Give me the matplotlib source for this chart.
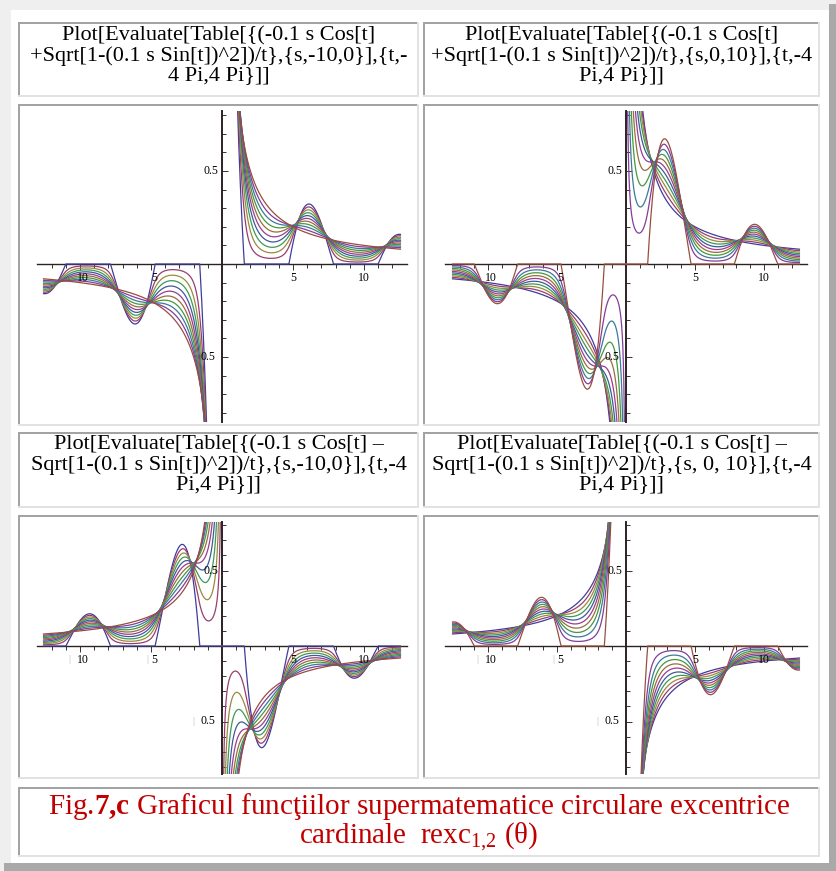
import numpy as np
import matplotlib
matplotlib.use('Agg')
import matplotlib.pyplot as plt
import colorsys
from matplotlib.patches import Rectangle

plt.rcParams['font.family'] = ['Liberation Serif', 'DejaVu Serif']
plt.rcParams['mathtext.fontset'] = 'custom'
plt.rcParams['mathtext.rm'] = 'Liberation Serif'
plt.rcParams['mathtext.it'] = 'Liberation Serif:italic'
plt.rcParams['mathtext.bf'] = 'Liberation Serif:bold'

# family parameter s (one curve per value) and the t interval, as in the Table[...] titles
s_neg = [-10, -9, -8, -7, -6, -5, -4, -3, -2, -1, 0]
s_pos = [0, 1, 2, 3, 4, 5, 6, 7, 8, 9, 10]
t_min, t_max = -4 * np.pi, 4 * np.pi
# sign in front of Sqrt[...] : top row "+", bottom row "-"
signs = [1, 1, -1, -1]

# Mathematica 6 default plot colours: Hue[h, 0.6, 0.6]
hues = [0.67, 0.906068, 0.142136, 0.378204, 0.614272, 0.850340,
        0.086408, 0.322476, 0.558544, 0.794612, 0.030680]

x_ticks = [-10, -5, 5, 10]
x_tick_labels = ['10', '5', '5', '10']
y_ticks = [-0.5, 0.5]
y_tick_labels = ['0.5', '0.5']

titles = [
    ['Plot[Evaluate[Table[{(-0.1 s Cos[t]',
     '+Sqrt[1-(0.1 s Sin[t])^2])/t},{s,-10,0}],{t,-',
     '4 Pi,4 Pi}]]'],
    ['Plot[Evaluate[Table[{(-0.1 s Cos[t]',
     '+Sqrt[1-(0.1 s Sin[t])^2])/t},{s,0,10}],{t,-4',
     'Pi,4 Pi}]]'],
    ['Plot[Evaluate[Table[{(-0.1 s Cos[t] \u2013',
     'Sqrt[1-(0.1 s Sin[t])^2])/t},{s,-10,0}],{t,-4',
     'Pi,4 Pi}]]'],
    ['Plot[Evaluate[Table[{(-0.1 s Cos[t] \u2013',
     'Sqrt[1-(0.1 s Sin[t])^2])/t},{s, 0, 10}],{t,-4',
     'Pi,4 Pi}]]'],
]
caption = [r'Fig.$\mathbf{7{,}c}$ Graficul func' + '\u0163' + 'iilor supermatematice circulare excentrice',
           r'cardinale  rexc$_{1{,}2}$ (' + '\u03b8' + ')']

W, H = 836, 871
fig = plt.figure(figsize=(W / 100, H / 100), dpi=100)
fig.patch.set_facecolor('#efefef')


def px_rect(x0, y0, x1, y1, color, z=0):
    fig.add_artist(Rectangle((x0 / W, 1 - y1 / H), (x1 - x0) / W, (y1 - y0) / H,
                             transform=fig.transFigure, color=color, lw=0, zorder=z))


def cell(x0, y0, x1, y1):
    px_rect(x0, y0, x1, y1, 'white', 0.5)
    px_rect(x0, y0, x1, y0 + 2, '#a3a3a3', 1)
    px_rect(x0, y0, x0 + 2, y1, '#a3a3a3', 1)
    px_rect(x0, y1 - 2, x1, y1, '#e2e2e2', 1)
    px_rect(x1 - 2, y0, x1, y1, '#e2e2e2', 1)


# page background and outer shadow
px_rect(11, 10, 829, 863, 'white', 0.2)
px_rect(829, 4, 836, 871, '#a9a9a9', 0.3)
px_rect(4, 863, 836, 871, '#a9a9a9', 0.3)

cols = [(18, 419), (423, 820)]
title_rows = [(22, 97), (432, 508)]
plot_rows = [(104, 426), (515, 779)]
title_line_y = [[36, 56, 76], [445, 465, 485]]

# pixel geometry of each graphic: y-axis x, px per x unit, x half range, x-axis y, px per y unit
geom = [
    (222, 14.2, 13.0, 264, 186),
    (626, 13.8, 13.1, 264, 186),
    (222, 14.2, 13.0, 646, 151),
    (626, 13.8, 13.1, 646, 151),
]
ylim = (-0.85, 0.82)

t_left = np.linspace(t_min, -1e-4, 3000)
t_right = np.linspace(1e-4, t_max, 3000)
t = np.concatenate([t_left, [np.nan], t_right])

for i in range(4):
    r, c = divmod(i, 2)
    x0, x1 = cols[c]
    cell(x0, title_rows[r][0], x1, title_rows[r][1])
    cell(x0, plot_rows[r][0], x1, plot_rows[r][1])
    xc = (x0 + x1) / 2
    for line, yl in zip(titles[i], title_line_y[r]):
        fig.text(xc / W, 1 - yl / H, line, ha='center', va='center', fontsize=16, color='black', zorder=5)

    yax, xs, xh, xax, ys = geom[i]
    left = yax - xh * xs
    right = yax + xh * xs
    top = xax - ylim[1] * ys
    bottom = xax - ylim[0] * ys
    ax = fig.add_axes([left / W, 1 - bottom / H, (right - left) / W, (bottom - top) / H])
    ax.set_zorder(3)
    ax.patch.set_alpha(0)
    ax.set_xlim(-xh, xh)
    ax.set_ylim(*ylim)

    s_vals = s_neg if c == 0 else s_pos
    for k, s in enumerate(s_vals):
        col = colorsys.hsv_to_rgb(hues[k], 0.6, 0.6)
        root = np.sqrt(np.clip(1 - (0.1 * s * np.sin(t)) ** 2, 0, None))
        y = (-0.1 * s * np.cos(t) + signs[i] * root) / t
        ax.plot(t, y, color=col, lw=0.9, zorder=3)

    for side in ['top', 'right']:
        ax.spines[side].set_visible(False)
    ax.spines['left'].set_position(('data', 0))
    ax.spines['bottom'].set_position(('data', 0))
    ax.spines['left'].set_color('#2b2222')
    ax.spines['bottom'].set_color('#2b2222')
    ax.spines['left'].set_linewidth(1.4)
    ax.spines['bottom'].set_linewidth(1.0)
    ax.spines['left'].set_zorder(2)
    ax.spines['bottom'].set_zorder(2)

    ax.set_xticks(x_ticks)
    ax.set_xticks([v for v in range(-12, 13) if v not in (0, -10, -5, 5, 10)], minor=True)
    ax.set_yticks(y_ticks)
    ax.set_yticks([v / 10 for v in range(-8, 9) if v not in (0, -5, 5)], minor=True)
    ax.tick_params(axis='x', which='both', direction='out', color='#333333', width=0.7,
                   labelbottom=False)
    ax.tick_params(axis='x', which='major', length=4)
    ax.tick_params(axis='x', which='minor', length=3)
    ax.tick_params(axis='y', which='both', direction='in', color='#333333', width=0.7,
                   labelleft=False)
    ax.tick_params(axis='y', which='major', length=4)
    ax.tick_params(axis='y', which='minor', length=3)

    # tick labels: negative values appear without a visible minus sign
    for xv, lab in zip(x_ticks, x_tick_labels):
        dx = 2 if xv < 0 else 0
        ax.annotate(lab, (xv, 0), xytext=(dx, -10), textcoords='offset points',
                    ha='center', va='center', fontsize=8.5, zorder=6)
        if xv < 0 and r == 1:
            bx = -9.5 if len(lab) == 2 else -4.5
            ax.annotate('|', (xv, 0), xytext=(dx + bx, -10), textcoords='offset points',
                        ha='center', va='center', fontsize=7.5, color='#b5b5b5')
    for yv, lab in zip(y_ticks, y_tick_labels):
        dx = -2.5 if yv > 0 else -4.5
        ax.annotate(lab, (0, yv), xytext=(dx, 0), textcoords='offset points',
                    ha='right', va='center', fontsize=8.5, zorder=6)
        if yv < 0 and r == 1:
            ax.annotate('|', (0, yv), xytext=(dx - 16, 0), textcoords='offset points',
                        ha='center', va='center', fontsize=7.5, color='#b5b5b5')

# caption
cell(18, 787, 820, 857)
fig.text(419 / W, 1 - 806 / H, caption[0], ha='center', va='center', fontsize=21, color='#c00000', zorder=5)
fig.text(419 / W, 1 - 837 / H, caption[1], ha='center', va='center', fontsize=21, color='#c00000', zorder=5)

fig.savefig('out.png', dpi=100, facecolor=fig.get_facecolor())
